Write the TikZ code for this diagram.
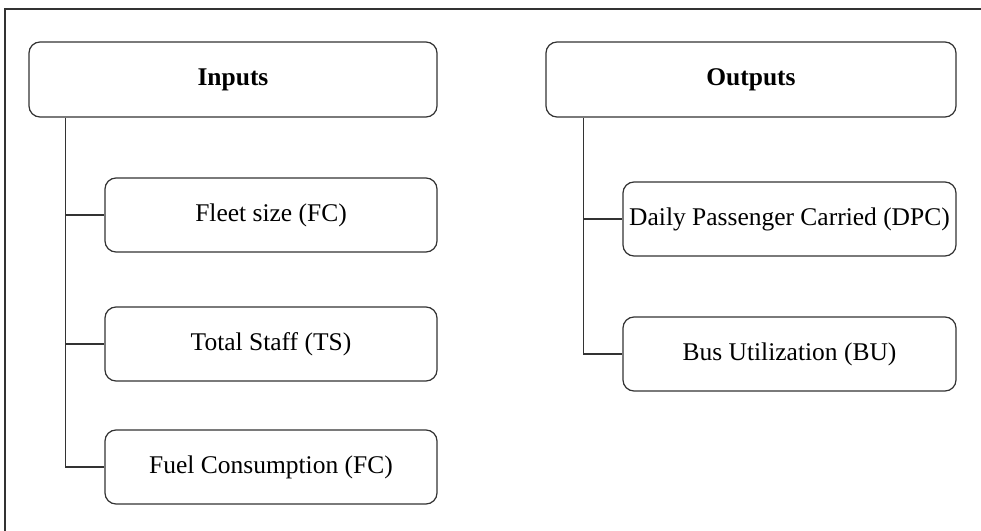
\documentclass[tikz,border=0pt]{standalone}
\usepackage{fontspec}
\setmainfont{Liberation Serif}
\usetikzlibrary{calc}

\tikzset{
  headbox/.style={draw=black!80, line width=0.7pt, rounded corners=0.22cm, minimum width=8.16cm, minimum height=1.5cm, font=\fontsize{14.5}{16}\selectfont\bfseries},
  itembox/.style={draw=black!80, line width=0.7pt, rounded corners=0.22cm, minimum width=6.64cm, minimum height=1.48cm, inner sep=0pt, font=\fontsize{14.5}{16}\selectfont},
  link/.style={draw=black!80, line width=0.7pt}
}

\begin{document}
\begin{tikzpicture}
			\useasboundingbox (0,0) rectangle (19.62,-10.62);
			% FRAME
			\path[draw, black!80, line width=0.7pt] (19.62,-0.18) -- (0.1,-0.18) -- (0.1,-10.62);
			
			% HEADS
			\node[headbox] (inputs) at (4.66, -1.59) {Inputs};
			\node[headbox, minimum width=8.2cm] (outputs) at (15.02, -1.59) {Outputs};
			
			% INPUT ITEMS
			\node[itembox] (fleet) at (5.42, -4.30) {Fleet size (FC)};
			\node[itembox] (staff) at (5.42, -6.88) {Total Staff (TS)};
			\node[itembox] (fuel) at (5.42, -9.34) {Fuel Consumption (FC)};
			
			% OUTPUT ITEMS
			\node[itembox, minimum width=6.66cm] (dpc) at (15.79, -4.38) {Daily Passenger Carried (DPC)};
			\node[itembox, minimum width=6.66cm] (bu) at (15.79, -7.08) {Bus Utilization (BU)};
			
			% DRAW TREE
			\coordinate (iv) at ($(inputs.south west)+(0.74,0)$);
			\coordinate (ov) at ($(outputs.south west)+(0.76,0)$);
			\path[link] (iv) |- (fuel.west); \path[link] (iv |- fleet.west) -- (fleet.west);
			\path[link] (iv |- staff.west) -- (staff.west);
			\path[link] (ov) |- (bu.west); \path[link] (ov |- dpc.west) -- (dpc.west);
		\end{tikzpicture}
\end{document}
